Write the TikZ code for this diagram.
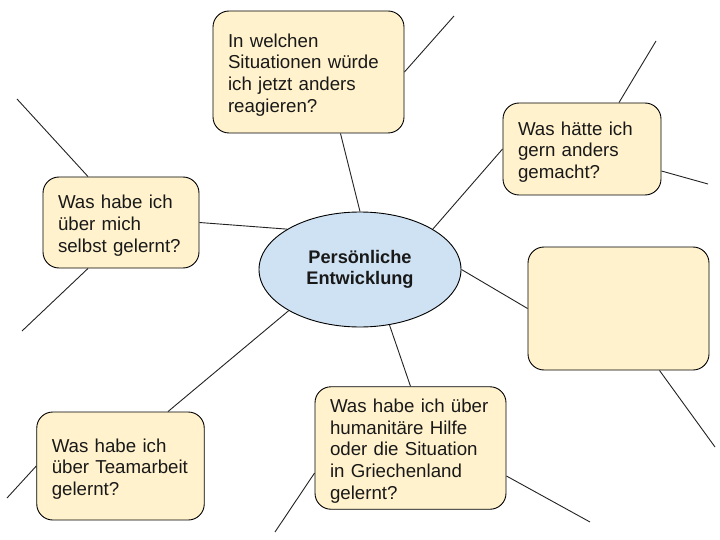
\documentclass[tikz,border=0pt]{standalone}
\usepackage{fontspec}
\setmainfont{Liberation Sans}
\usetikzlibrary{shapes.geometric}
\definecolor{boxfill}{HTML}{FFF2CC}
\definecolor{ellfill}{HTML}{CFE2F3}
\definecolor{linecol}{HTML}{222222}
\tikzset{
  qbox/.style={draw=black, line width=0.9pt, fill=boxfill, rounded corners=16pt,
    align=left, inner xsep=15pt, inner ysep=0pt,
    font=\fontsize{18.7}{21.8}\selectfont, text=black!90,
    execute at begin node={\leavevmode\rule{0pt}{19.5pt}}},
  central/.style={ellipse, draw=black, line width=0.9pt, fill=ellfill,
    inner sep=0pt, align=center, text=black!90,
    font=\bfseries\fontsize{18.2}{21}\selectfont},
  conn/.style={draw=linecol, line width=0.9pt},
}
\begin{document}
\begin{tikzpicture}[x=1pt,y=-1pt]
\useasboundingbox (0,0) rectangle (720,540);

% central node
\node[central, minimum width=202pt, minimum height=115pt] (e) at (360,269.5) {Persönliche\\Entwicklung};

% question boxes
\node[qbox, text width=161pt, minimum width=191pt, minimum height=122pt] (top) at (308.5,72)
  {In welchen\\Situationen würde\\ich jetzt anders\\reagieren?};
\node[qbox, text width=128pt, minimum width=158pt, minimum height=92pt] (rt) at (582,149)
  {Was hätte ich\\gern anders\\gemacht?};
\node[qbox, text width=126pt, minimum width=156pt, minimum height=91pt] (lf) at (121,222.5)
  {Was habe ich\\über mich\\selbst gelernt?};
\node[qbox, minimum width=181pt, minimum height=123pt] (rb) at (618.5,308.5) {};
\node[qbox, text width=137.5pt, minimum width=167pt, minimum height=108pt] (bl) at (120.5,466)
  {Was habe ich\\über Teamarbeit\\gelernt?};
\node[qbox, text width=161pt, minimum width=191pt, minimum height=122.5pt] (bm) at (410.5,448)
  {Was habe ich über\\humanitäre Hilfe\\oder die Situation\\in Griechenland\\gelernt?};

% free ends
\coordinate (t1) at (454,16);
\coordinate (r1) at (656,41);
\coordinate (r2) at (708,184);
\coordinate (l1) at (17,99);
\coordinate (l2) at (22,331);
\coordinate (b1) at (715,447);
\coordinate (b2) at (7,498);
\coordinate (b3) at (275,532);
\coordinate (b4) at (590,522);

% connectors to centre
\draw[conn] ([xshift=32pt]top.south) -- (e.north);
\draw[conn] (rt.west) -- (e.29.5);
\draw[conn] (lf.east) -- (e.151.5);
\draw[conn] (rb.west) -- (e.east);
\draw[conn] ([xshift=47.5pt]bl.north) -- (e.210);
\draw[conn] (bm.north) -- (e.-62.2);

% free connectors
\draw[conn] (top.east) -- (t1);
\draw[conn] ([xshift=37pt]rt.north) -- (r1);
\draw[conn] ([yshift=-22pt]rt.east) -- (r2);
\draw[conn] ([xshift=-33pt]lf.north) -- (l1);
\draw[conn] ([xshift=-33pt]lf.south) -- (l2);
\draw[conn] ([xshift=41pt]rb.south) -- (b1);
\draw[conn] (bl.west) -- (b2);
\draw[conn] ([yshift=-25pt]bm.west) -- (b3);
\draw[conn] ([yshift=-28pt]bm.east) -- (b4);
\end{tikzpicture}
\end{document}
